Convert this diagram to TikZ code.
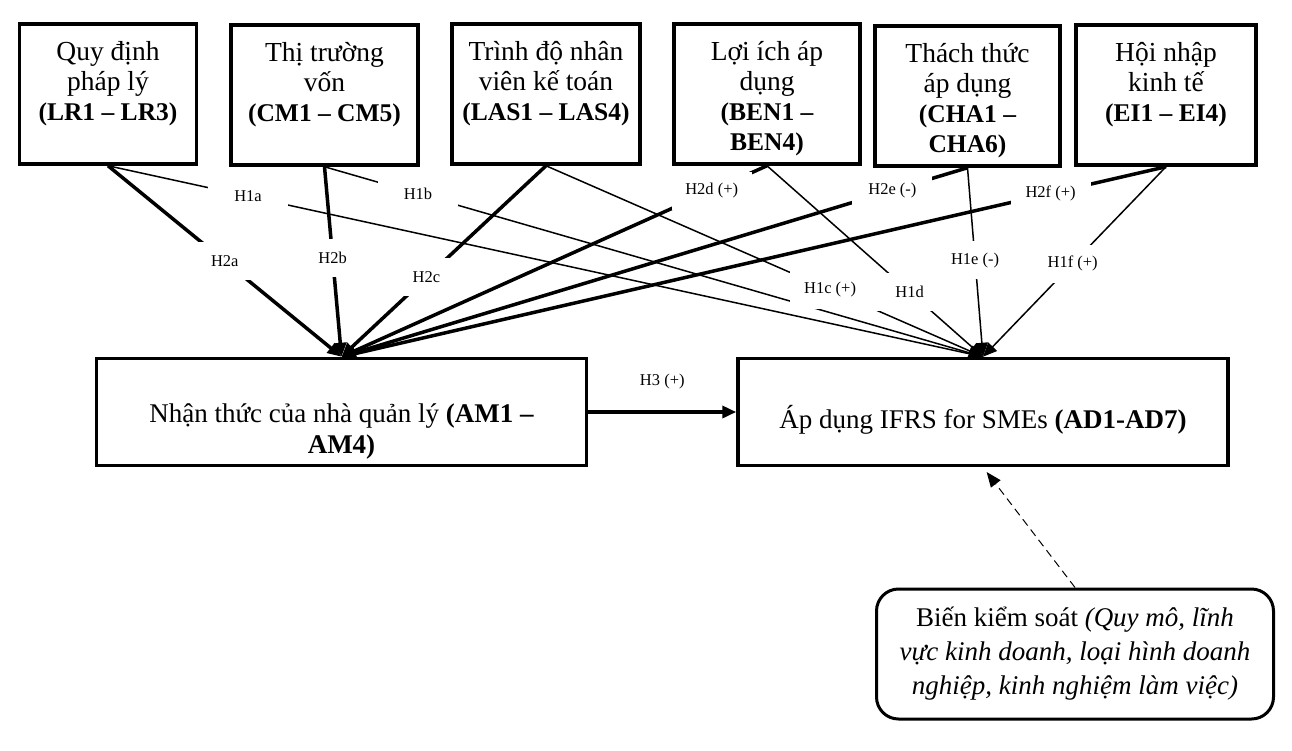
\documentclass[tikz,border=0pt]{standalone}
\usepackage{fontspec}
\setmainfont{Liberation Serif}
\usetikzlibrary{arrows.meta,positioning}

\newcommand{\code}[1]{{\fontsize{25.5}{30}\selectfont\bfseries #1}}

\begin{document}
\begin{tikzpicture}[
    x=1pt, y=-1pt,
    topbox/.style={rectangle, draw, line width=3.5pt, minimum height=140pt},
    mainbox/.style={rectangle, draw, line width=3.5pt, minimum width=490pt, minimum height=107pt},
    ctrlbox/.style={rectangle, draw, rounded corners=22pt, line width=3pt, minimum width=397pt, minimum height=130pt, align=center, font=\fontsize{27}{34}\selectfont},
    boxtext/.style={align=center, inner sep=0pt, font=\fontsize{27.5}{30}\selectfont},
    lbl/.style={fill=white, minimum width=80pt, minimum height=38pt, inner sep=0pt, font=\fontsize{16.5}{18}\selectfont},
    hone/.style={line width=1.5pt, -{Triangle[length=14pt,width=12pt]}},
    htwo/.style={line width=3.5pt, -{Triangle[length=14pt,width=12pt]}}
]
    \useasboundingbox (0,0) rectangle (1292,750);

    % factor boxes
    \node[topbox, minimum width=177pt] (lr) at (108,94) {};
    \node[topbox, minimum width=187pt] (cm) at (324.5,95) {};
    \node[topbox, minimum width=188pt] (las) at (546,94) {};
    \node[topbox, minimum width=186pt] (ben) at (767,94) {};
    \node[topbox, minimum width=185pt] (cha) at (967.5,96) {};
    \node[topbox, minimum width=180pt] (ei) at (1166,95) {};

    \node[boxtext, below=17pt of lr.north] (lrtext) {\strut Quy định\\pháp lý\\\code{(LR1 – LR3)}};
    \node[boxtext, below=17pt of cm.north] (cmtext) {\strut Thị trường\\vốn\\\code{(CM1 – CM5)}};
    \node[boxtext, below=17pt of las.north] (lastext) {\strut Trình độ nhân\\viên kế toán\\\code{(LAS1 – LAS4)}};
    \node[boxtext, below=17pt of ben.north] (bentext) {\strut Lợi ích áp\\dụng\\\code{(BEN1 –}\\\code{BEN4)}};
    \node[boxtext, below=17pt of cha.north] (chatext) {\strut Thách thức\\áp dụng\\\code{(CHA1 –}\\\code{CHA6)}};
    \node[boxtext, below=17pt of ei.north] (eitext) {\strut Hội nhập\\kinh tế\\\code{(EI1 – EI4)}};

    % outcome boxes
    \node[mainbox] (am) at (341.5,412) {};
    \node[mainbox] (ad) at (983,412) {};
    \node[boxtext, font=\fontsize{27}{31}\selectfont, below=44pt of am.north] (amtext) {\strut Nhận thức của nhà quản lý \textbf{(AM1 –}\\\textbf{AM4)}};
    \node[boxtext, font=\fontsize{27}{31}\selectfont, below=48pt of ad.north] (adtext) {\strut Áp dụng IFRS for SMEs \textbf{(AD1-AD7)}};

    \node[ctrlbox] (ctrl) at (1075,654) {Biến kiểm soát \textit{(Quy mô, lĩnh}\\\textit{vực kinh doanh, loại hình doanh}\\\textit{nghiệp, kinh nghiệm làm việc)}};

    % hypotheses
    \foreach \src in {lr,cm,las,ben,cha,ei}
        \draw[hone] (\src.south) -- (ad.north);
    \foreach \src in {lr,cm,las,ben,cha,ei}
        \draw[htwo] (\src.south) -- (am.north);

    \foreach \src/\dst/\p/\txt in {lr/ad/0.16/H1a, lr/am/0.5/H2a, cm/am/0.48/H2b, cm/ad/0.142/H1b,
            las/am/0.585/H2c, las/ad/0.65/H1c (+), ben/am/0.13/H2d (+), ben/ad/0.66/H1d,
            cha/am/0.12/H2e (-), cha/ad/0.49/H1e (-), ei/am/0.14/H2f (+), ei/ad/0.51/H1f (+)}
        \path (\src.south) -- node[lbl, pos=\p] {\txt} (\dst.north);

    \draw[htwo] (am.east) -- node[above=18pt, font=\fontsize{16.5}{18}\selectfont] (h3) {H3 (+)} (ad.west);
    \draw[line width=1pt, dash pattern=on 8pt off 5pt, shorten >=6pt, -{Triangle[length=15pt,width=12pt]}] (ctrl.north) -- (ad.south);
\end{tikzpicture}
\end{document}
